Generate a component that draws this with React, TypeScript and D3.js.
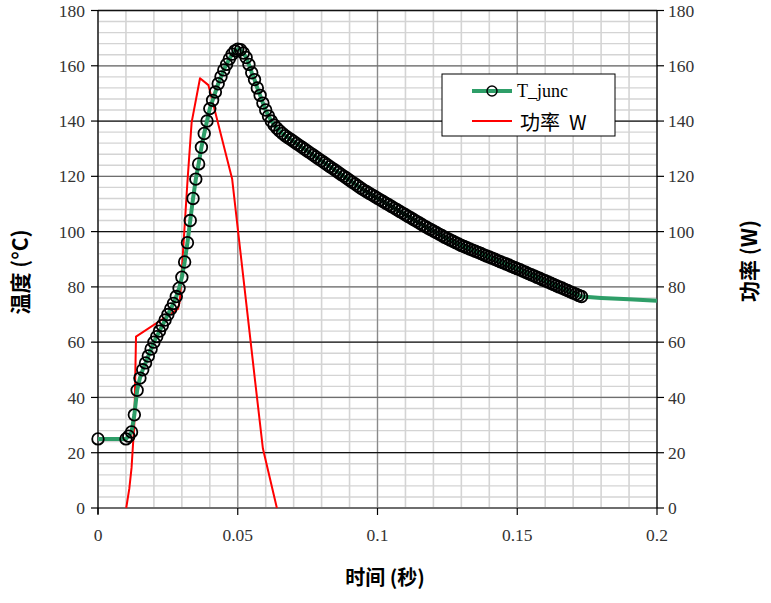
import React from "react";
import * as d3 from "d3";

// ---- data ----
const tempStartTime = 0.01;
const tempStep = 0.001;
const tempInitial = { t: 0, v: 25 };
const tempValues = [
  25, 26, 27.5, 33.7, 42.6, 47, 50, 52.5, 55, 57.5,
  60, 62, 64, 66, 68, 70, 72, 74, 76.5, 79.5,
  83.5, 89, 96, 104, 112, 119, 124.5, 130.5, 135.5, 140,
  144.5, 147.5, 150.5, 153.5, 156, 158.5, 160.5, 162.5, 164.2, 165.4,
  166, 165.8, 164.6, 163, 160.5, 157.5, 155, 152, 149.3, 146.5,
  144, 141.8, 140, 138.6, 137.4, 136.4, 135.5, 134.7, 134, 133.3,
  132.6, 131.9, 131.2, 130.5, 129.8, 129.1, 128.4, 127.7, 127, 126.3,
  125.6, 124.9, 124.2, 123.5, 122.8, 122.1, 121.4, 120.7, 120, 119.3,
  118.6, 117.9, 117.2, 116.5, 115.8, 115.1, 114.5, 113.9, 113.3, 112.7,
  112.1, 111.5, 110.9, 110.3, 109.7, 109.1, 108.5, 107.9, 107.3, 106.7,
  106.1, 105.5, 104.9, 104.3, 103.7, 103.1, 102.5, 101.9, 101.3, 100.8,
  100.2, 99.7, 99.1, 98.6, 98, 97.5, 97, 96.5, 96, 95.5,
  95, 94.6, 94.2, 93.7, 93.3, 92.9, 92.5, 92.1, 91.6, 91.2,
  90.8, 90.4, 90, 89.5, 89.1, 88.7, 88.3, 87.9, 87.4, 87,
  86.6, 86.2, 85.7, 85.3, 84.8, 84.4, 84, 83.5, 83.1, 82.6,
  82.2, 81.8, 81.3, 80.9, 80.4, 80, 79.6, 79.1, 78.7, 78.2,
  77.8, 77.4, 76.9, 76.5,
];
const tempTailTimes = [0.18, 0.19, 0.2];
const tempTailValues = [76.0, 75.5, 75.0];

const powerTimes = [0.0101, 0.0112, 0.012, 0.013, 0.0133, 0.0136, 0.0286, 0.0293, 0.032, 0.0335, 0.0365, 0.0395, 0.048, 0.0562, 0.059, 0.064];
const powerValues = [0, 7, 14.5, 30.6, 46, 62, 72, 75, 118, 139.5, 155.5, 153, 119, 46, 21.5, 0];

const xTicks = [0, 0.05, 0.1, 0.15, 0.2];
const xTickLabels = ["0", "0.05", "0.1", "0.15", "0.2"];
const yTicks = [0, 20, 40, 60, 80, 100, 120, 140, 160, 180];

const xTitle = "时间 (秒)";
const yLeftTitle = "温度 (°C)";
const yRightTitle = "功率 (W)";
const legendTemp = "T_junc";
const legendPower = "功率  W";

// ---- layout ----
const W = 771, H = 603;
const L = 98, R = 657, T = 10.5, B = 508;

export default function App() {
  const x = d3.scaleLinear().domain([0, 0.2]).range([L, R]);
  const y = d3.scaleLinear().domain([0, 180]).range([B, T]);

  const tempPts: [number, number][] = [
    [tempInitial.t, tempInitial.v],
    ...tempValues.map((v, i) => [tempStartTime + i * tempStep, v] as [number, number]),
  ];
  const tempLinePts: [number, number][] = [
    ...tempPts,
    ...tempTailTimes.map((t, i) => [t, tempTailValues[i]] as [number, number]),
  ];
  const powerPts: [number, number][] = powerTimes.map((t, i) => [t, powerValues[i]]);

  const line = d3.line<[number, number]>().x((d) => x(d[0])).y((d) => y(d[1]));

  const minorX = d3.range(0, 21).map((i) => i / 100);
  const minorY = d3.range(0, 46).map((i) => i * 4);

  const serif = "'Liberation Serif', 'DejaVu Serif', serif";
  const cjk = "'Noto Sans CJK SC', 'Noto Sans', sans-serif";

  return (
    <svg width={W} height={H} style={{ position: "absolute", left: 0, top: 0, background: "#fff" }}>
      <rect x={0} y={0} width={W} height={H} fill="#fff" />
      {/* minor grid */}
      {minorY.map((v) => (
        <line key={"my" + v} x1={L} x2={R} y1={y(v)} y2={y(v)} stroke="#d4d4d4" strokeWidth={1.4} />
      ))}
      {minorX.map((t) => (
        <line key={"mx" + t} x1={x(t)} x2={x(t)} y1={T} y2={B} stroke="#d4d4d4" strokeWidth={1.6} />
      ))}
      {/* major grid */}
      {[0.05, 0.1, 0.15].map((t) => (
        <line key={"Mx" + t} x1={x(t)} x2={x(t)} y1={T} y2={B} stroke="#8a8a8a" strokeWidth={1.2} />
      ))}
      {yTicks.map((v, i) => (
        <line key={"My" + v} x1={L} x2={R} y1={y(v)} y2={y(v)} stroke={i % 2 === 0 ? "#6e6e6e" : "#111"} strokeWidth={i === 0 ? 2 : 1.3} />
      ))}
      {/* axes */}
      <line x1={L} x2={L} y1={T} y2={B + 6} stroke="#000" strokeWidth={1.3} />
      <line x1={R} x2={R} y1={T} y2={B} stroke="#000" strokeWidth={1.3} />
      {yTicks.map((v) => (
        <g key={"yt" + v}>
          <line x1={L - 7} x2={L} y1={y(v)} y2={y(v)} stroke="#000" strokeWidth={1.2} />
          <line x1={R} x2={R + 7} y1={y(v)} y2={y(v)} stroke="#000" strokeWidth={1.2} />
          <text x={L - 13} y={y(v)} dy="0.35em" textAnchor="end" fontFamily={serif} fontSize={17.5} fill="#333">{v}</text>
          <text x={R + 11} y={y(v)} dy="0.35em" textAnchor="start" fontFamily={serif} fontSize={17.5} fill="#333">{v}</text>
        </g>
      ))}
      {xTicks.map((t, i) => (
        <g key={"xt" + t}>
          <line x1={x(t)} x2={x(t)} y1={B} y2={B + 7} stroke="#000" strokeWidth={1.2} />
          <text x={x(t)} y={B + 33} textAnchor="middle" fontFamily={serif} fontSize={17.5} fill="#333">{xTickLabels[i]}</text>
        </g>
      ))}

      {/* series */}
      <path d={line(powerPts) || ""} fill="none" stroke="#ff0000" strokeWidth={2} strokeLinejoin="round" />
      <path d={line(tempLinePts) || ""} fill="none" stroke="#2e9e68" strokeWidth={4} strokeLinejoin="round" />
      {tempPts.map((d, i) => (
        <circle key={"c" + i} cx={x(d[0])} cy={y(d[1])} r={5.8} fill="none" stroke="#000" strokeWidth={1.8} />
      ))}

      {/* titles */}
      <text x={385} y={585} textAnchor="middle" fontFamily={cjk} fontWeight="bold" fontSize={20} fill="#000">{xTitle}</text>
      <text transform={`translate(28, 272) rotate(-90)`} textAnchor="middle" fontFamily={cjk} fontWeight="bold" fontSize={21} fill="#000">{yLeftTitle}</text>
      <text transform={`translate(757, 261) rotate(-90)`} textAnchor="middle" fontFamily={cjk} fontWeight="bold" fontSize={21} fill="#000">{yRightTitle}</text>

      {/* legend */}
      <rect x={442} y={74} width={173} height={62} fill="#fff" stroke="#000" strokeWidth={1} />
      <line x1={472} x2={512} y1={91} y2={91} stroke="#2e9e68" strokeWidth={4} />
      <circle cx={492} cy={91} r={5} fill="none" stroke="#000" strokeWidth={1.4} />
      <text x={517} y={97} fontFamily={serif} fontSize={18} fill="#000">{legendTemp}</text>
      <line x1={472} x2={512} y1={121} y2={121} stroke="#ff0000" strokeWidth={2} />
      <text x={520} y={130} fontFamily={cjk} fontSize={20} fill="#000" style={{ whiteSpace: "pre" }}>{legendPower}</text>
    </svg>
  );
}
